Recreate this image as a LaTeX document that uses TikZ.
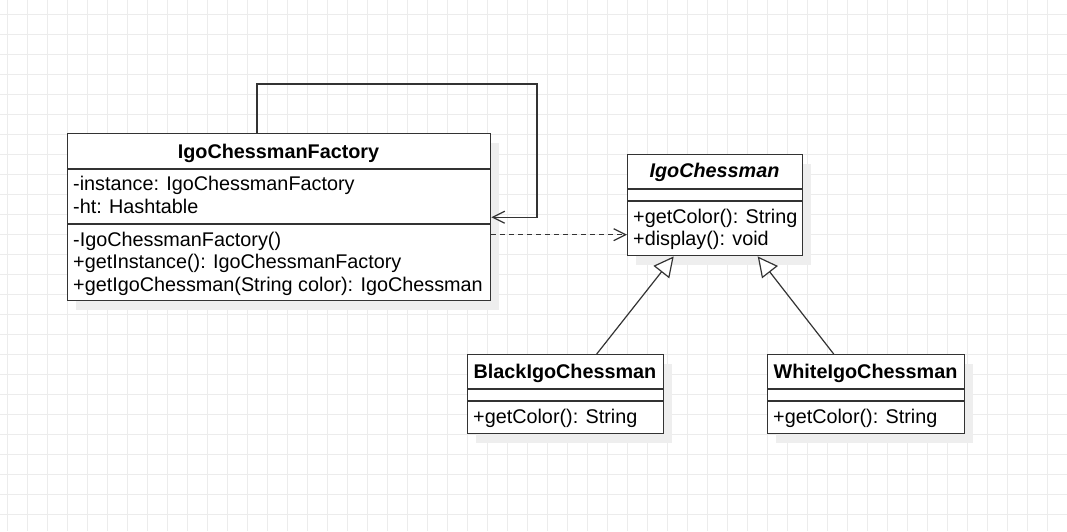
\documentclass[tikz,border=0pt]{standalone}
\usepackage{fontspec}
\setmainfont{Liberation Sans}
\usetikzlibrary{arrows.meta,shadows}
\definecolor{gridgray}{RGB}{236,236,236}
\definecolor{shadowgray}{RGB}{238,238,238}
\definecolor{boxline}{RGB}{51,51,51}
\tikzset{
  umlbox/.style={draw=boxline, fill=white, line width=1.4pt, inner sep=0pt, anchor=north west,
    general shadow={shadow xshift=8pt, shadow yshift=-9pt, fill=shadowgray}},
  umltext/.style={anchor=base west, inner sep=0pt, font=\fontsize{19.8}{23}\selectfont},
  umltitle/.style={anchor=base, inner sep=0pt, font=\fontsize{19.8}{23}\selectfont\bfseries},
  sepline/.style={draw=boxline, line width=1.4pt},
  assoc/.style={draw=boxline, line width=1.2pt, -{Straight Barb[length=12pt,width=12pt]}},
  depend/.style={assoc, dash pattern=on 5pt off 4pt},
  inherit/.style={draw=boxline, line width=1.2pt, -{Triangle[open, length=20pt, width=20pt, fill=white]}}
}
\begin{document}
\begin{tikzpicture}[x=1pt,y=-1pt]
    \useasboundingbox (0,0) rectangle (1067,531);
    % grid
    \foreach \gx in {7,27,...,1067} \draw[gridgray, line width=1pt] (\gx,0) -- (\gx,531);
    \foreach \gy in {14,34,...,531} \draw[gridgray, line width=1pt] (0,\gy) -- (1067,\gy);
    % factory
    \node[umlbox, minimum width=423pt, minimum height=167pt] (factory) at (67,133) {};
    \draw[sepline] (67,169) -- (490,169);
    \draw[sepline] (67,224) -- (490,224);
    \node[umltitle] (factorytitle) at (278.5,158) {IgoChessmanFactory};
    \node[umltext] (fattr1) at (73,190) {-instance: IgoChessmanFactory};
    \node[umltext] (fattr2) at (73,213) {-ht: Hashtable};
    \node[umltext] (fop1) at (73,246) {-IgoChessmanFactory()};
    \node[umltext] (fop2) at (73,268.5) {+getInstance(): IgoChessmanFactory};
    \node[umltext] (fop3) at (73,291) {+getIgoChessman(String color): IgoChessman};
    % abstract chessman
    \node[umlbox, minimum width=175pt, minimum height=101pt] (chess) at (627,154) {};
    \draw[sepline] (627,189) -- (802,189);
    \draw[sepline] (627,201) -- (802,201);
    \node[umltitle, font=\fontsize{19.8}{23}\selectfont\bfseries\itshape] (chesstitle) at (714.5,177) {IgoChessman};
    \node[umltext] (cop1) at (633,223) {+getColor(): String};
    \node[umltext] (cop2) at (633,245) {+display(): void};
    % black chessman
    \node[umlbox, minimum width=196pt, minimum height=79pt] (black) at (467,354) {};
    \draw[sepline] (467,389) -- (663,389);
    \draw[sepline] (467,401) -- (663,401);
    \node[umltitle] (blacktitle) at (565,378) {BlackIgoChessman};
    \node[umltext] (bop1) at (473,423) {+getColor(): String};
    % white chessman
    \node[umlbox, minimum width=197pt, minimum height=79pt] (white) at (767,354) {};
    \draw[sepline] (767,389) -- (964,389);
    \draw[sepline] (767,401) -- (964,401);
    \node[umltitle] (whitetitle) at (865.5,378) {WhiteIgoChessman};
    \node[umltext] (wop1) at (773,423) {+getColor(): String};
    % connectors
    \coordinate (loopcorner) at (537,84);
    \draw[assoc] ([xshift=190pt]factory.north west) |- (loopcorner) |- (factory.east);
    \draw[depend] ([yshift=-17.5pt]factory.east) -- ([yshift=-17.5pt]factory.east -| chess.west);
    \draw[inherit] ([xshift=31pt]black.north) -- ([xshift=-41.5pt]chess.south);
    \draw[inherit] ([xshift=-32.5pt]white.north) -- ([xshift=42.5pt]chess.south);
\end{tikzpicture}
\end{document}
